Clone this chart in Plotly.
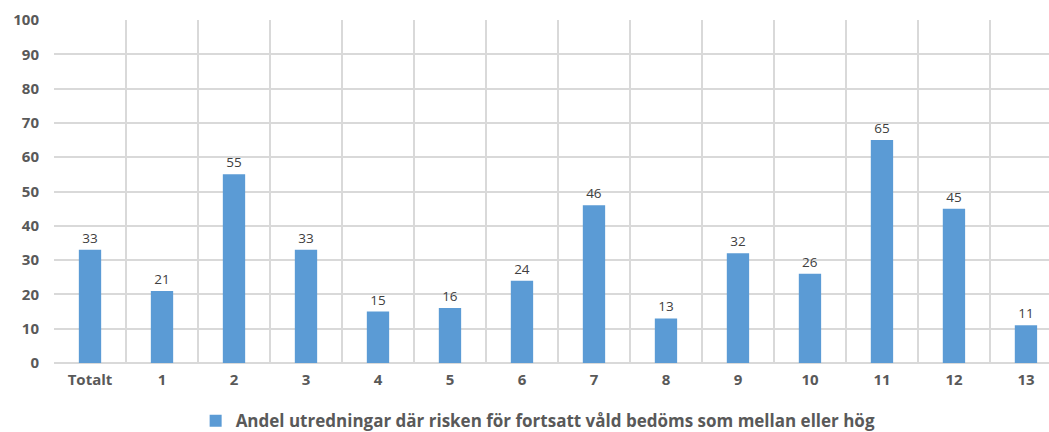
import plotly.graph_objects as go

categories = ["Totalt", "1", "2", "3", "4", "5", "6", "7", "8", "9", "10", "11", "12", "13"]
values = [33, 21, 55, 33, 15, 16, 24, 46, 13, 32, 26, 65, 45, 11]
series_name = "Andel utredningar där risken för fortsatt våld bedöms som mellan eller hög"
y_ticks = list(range(0, 101, 10))

positions = list(range(len(categories)))
grid = "#d9d9d9"
font_family = "Open Sans, Liberation Sans, Arial, sans-serif"

fig = go.Figure()
fig.add_trace(go.Bar(
    x=positions,
    y=values,
    name=series_name,
    width=0.31,
    marker=dict(color="#5b9bd5", line=dict(width=0)),
    text=[str(v) for v in values],
    textposition="outside",
    cliponaxis=False,
    textfont=dict(size=13.5, color="#404040", family=font_family),
    showlegend=True,
))

fig.update_layout(
    width=1049,
    height=432,
    margin=dict(l=54, r=0, t=20, b=69),
    paper_bgcolor="white",
    plot_bgcolor="white",
    bargap=0.69,
    font=dict(family=font_family, color="#595959"),
    showlegend=True,
    legend=dict(
        orientation="h",
        xref="container",
        yref="container",
        x=0.513,
        xanchor="center",
        y=0.025,
        yanchor="middle",
        font=dict(size=17, color="#595959", family=font_family, weight="bold"),
        itemwidth=30,
    ),
    xaxis=dict(
        range=[-0.5, 13.32],
        tickvals=positions,
        ticktext=categories,
        showgrid=False,
        zeroline=False,
        showline=False,
        ticks="",
        tickfont=dict(size=15, color="#595959", family=font_family, weight="bold"),
        ticklabelstandoff=6,
        minor=dict(
            tickvals=[p - 0.5 for p in positions] + [13.5],
            showgrid=True,
            gridcolor=grid,
            gridwidth=1.5,
            ticks="",
        ),
    ),
    yaxis=dict(
        range=[0, 100],
        tickvals=y_ticks,
        showgrid=True,
        gridcolor=grid,
        gridwidth=1.5,
        zeroline=True,
        zerolinecolor=grid,
        zerolinewidth=1.5,
        showline=False,
        ticks="",
        tickfont=dict(size=15, color="#595959", family=font_family, weight="bold"),
        ticklabelstandoff=14,
    ),
)

fig.write_html("out.html")
